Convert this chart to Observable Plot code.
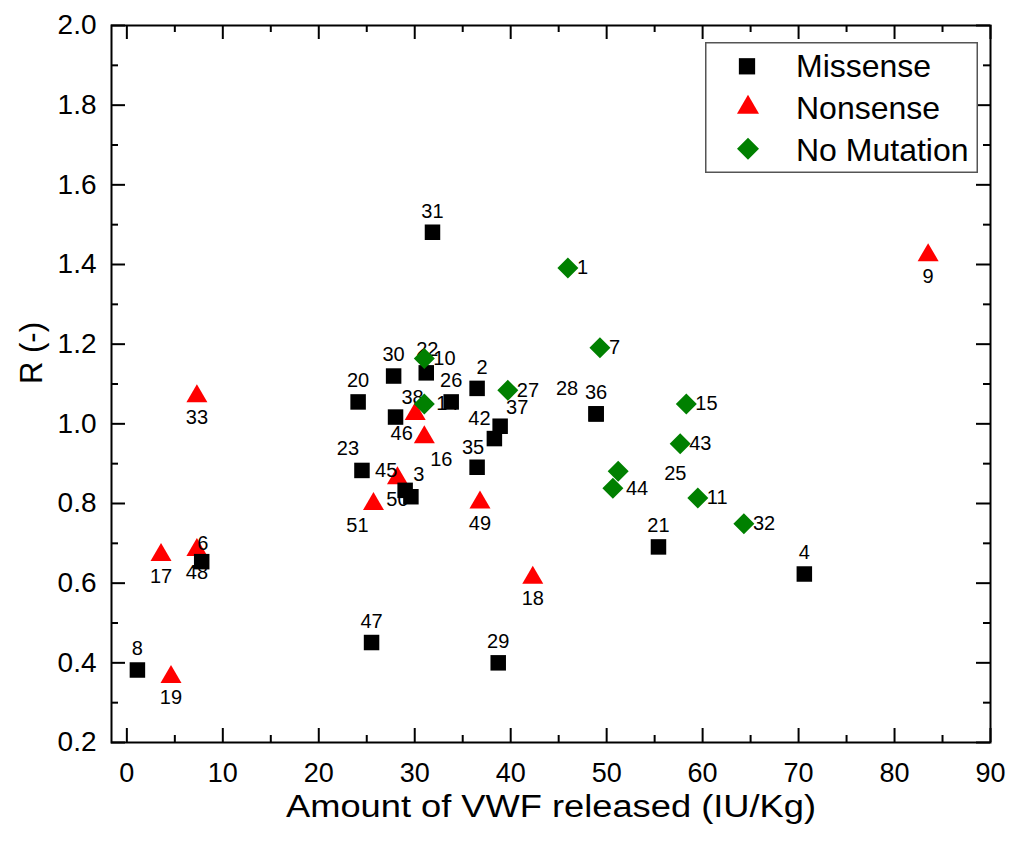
<!DOCTYPE html>
<html>
<head>
<meta charset="utf-8">
<script src="https://cdn.jsdelivr.net/npm/d3@7"></script>
<script src="https://cdn.jsdelivr.net/npm/@observablehq/plot@0.6"></script>
<style>
  html, body { margin: 0; padding: 0; background: white; }
  #wrap { position: relative; width: 1010px; height: 845px; font-family: "Liberation Sans", Arial, sans-serif; }
</style>
</head>
<body>
<div id="wrap"></div>
<script>
// ---------------- data ----------------
const missenseId  = [8, 6, 47, 29, 31, 20, 30, 22, 26, 2, 38, 37, 42, 35, 23, 45, 3, 28, 36, 21, 4];
const missenseVWF = [1.1, 7.8, 25.5, 38.7, 31.85, 24.1, 27.8, 31.2, 33.8, 36.5, 28.0, 38.9, 38.3, 36.5, 24.5, 29.0, 29.6, 48.9, 48.9, 55.4, 70.6];
const missenseR   = [0.382, 0.654, 0.451, 0.400, 1.481, 1.055, 1.120, 1.128, 1.055, 1.089, 1.017, 0.994, 0.963, 0.891, 0.883, 0.833, 0.817, 1.025, 1.025, 0.691, 0.623];

const nonsenseId  = [33, 17, 48, 19, 9, 18, 49, 51, 50, 46, 16];
const nonsenseVWF = [7.3, 3.56, 7.3, 4.6, 83.5, 42.3, 36.8, 25.7, 28.2, 30.05, 31.0];
const nonsenseR   = [1.077, 0.678, 0.691, 0.372, 1.431, 0.621, 0.810, 0.806, 0.871, 1.032, 0.974];

const noMutId  = [10, 14, 27, 1, 7, 15, 43, 25, 44, 11, 32];
const noMutVWF = [31.0, 31.0, 39.7, 45.96, 49.3, 58.3, 57.66, 51.2, 50.65, 59.5, 64.3];
const noMutR   = [1.164, 1.050, 1.084, 1.391, 1.191, 1.050, 0.950, 0.881, 0.838, 0.814, 0.749];

const categories = ["Missense", "Nonsense", "No Mutation"];
const colors = ["#000000", "#ff0000", "#008000"];

const xMajor = [0, 10, 20, 30, 40, 50, 60, 70, 80, 90];
const xMinor = [5, 15, 25, 35, 45, 55, 65, 75, 85];
const yMajor = [0.2, 0.4, 0.6, 0.8, 1.0, 1.2, 1.4, 1.6, 1.8, 2.0];
const yMinor = [0.3, 0.5, 0.7, 0.9, 1.1, 1.3, 1.5, 1.7, 1.9];

const xTitle = "Amount of VWF released (IU/Kg)";
const yTitle = "R (-)";

// ---------------- tables ----------------
function rows(ids, xs, ys, cat) {
  return ids.map((id, i) => ({id, vwf: xs[i], r: ys[i], cat}));
}
const missense = rows(missenseId, missenseVWF, missenseR, categories[0]);
const nonsense = rows(nonsenseId, nonsenseVWF, nonsenseR, categories[1]);
const noMut = rows(noMutId, noMutVWF, noMutR, categories[2]);

// label placement (style): default per category, plus manual nudges
const labelDefault = {
  "Missense": {dx: 0, dy: -21, anchor: "middle"},
  "Nonsense": {dx: 0, dy: 24, anchor: "middle"},
  "No Mutation": {dx: 9, dy: 0, anchor: "start"}
};
const labelNudge = {
  "Missense": {23: [-14, -22], 38: [17, -19], 37: [17, -19], 42: [-15, -20], 45: [-19, -20],
               3: [8, -22], 22: [1, -23], 2: [5, -21], 35: [-4, -20], 28: [-29, -25], 6: [1, -18]},
  "Nonsense": {51: [-16, 24], 46: [-13.5, 23], 16: [17, 25], 48: [0, 26]},
  "No Mutation": {25: [46, 2], 44: [13, 0], 14: [12, 0]}
};

// ---------------- symbols ----------------
const sqSym = {draw(c) { const h = 7.75; c.moveTo(-h, -h); c.lineTo(h, -h); c.lineTo(h, h); c.lineTo(-h, h); c.closePath(); }};
const triSym = {draw(c) { c.moveTo(0, -9); c.lineTo(10.5, 9); c.lineTo(-10.5, 9); c.closePath(); }};
const diaSym = {draw(c) { const h = 10.5; c.moveTo(0, -h); c.lineTo(h, 0); c.lineTo(0, h); c.lineTo(-h, 0); c.closePath(); }};
const symbols = [sqSym, triSym, diaSym];

const FONT = '"Liberation Sans", Arial, sans-serif';
const W = 1010, H = 845, ML = 111, MR = 20, MT = 25, MB = 103;
const FW = W - ML - MR, FH = H - MT - MB;

const labelMarks = [...missense, ...nonsense, ...noMut].map(d => {
  const def = labelDefault[d.cat];
  const n = labelNudge[d.cat][d.id];
  return Plot.text([d], {
    x: "vwf", y: "r", text: "id",
    dx: n ? n[0] : def.dx, dy: n ? n[1] : def.dy,
    textAnchor: def.anchor, fontSize: 20, fill: "black"
  });
});

const chart = Plot.plot({
  width: W, height: H,
  marginLeft: ML, marginRight: MR, marginTop: MT, marginBottom: MB,
  x: {domain: [-1.6, 90]},
  y: {domain: [0.2, 2.0]},
  style: {fontFamily: FONT, fontSize: "27px", color: "black", background: "white", overflow: "visible"},
  marks: [
    Plot.axisX(xMajor, {tickSize: 0, tickPadding: 20, fontSize: "27px", label: null}),
    Plot.axisY(yMajor, {tickSize: 0, tickPadding: 15, fontSize: "28px", label: null, tickFormat: d3.format(".1f")}),
    // inward ticks on all four sides
    Plot.tickX(xMajor, {x: d => d, insetTop: FH - 14, stroke: "black", strokeWidth: 2}),
    Plot.tickX(xMinor, {x: d => d, insetTop: FH - 7, stroke: "black", strokeWidth: 2}),
    Plot.tickX(xMajor, {x: d => d, insetBottom: FH - 14, stroke: "black", strokeWidth: 2}),
    Plot.tickX(xMinor, {x: d => d, insetBottom: FH - 7, stroke: "black", strokeWidth: 2}),
    Plot.tickY(yMajor, {y: d => d, insetRight: FW - 14, stroke: "black", strokeWidth: 2}),
    Plot.tickY(yMinor, {y: d => d, insetRight: FW - 7, stroke: "black", strokeWidth: 2}),
    Plot.tickY(yMajor, {y: d => d, insetLeft: FW - 14, stroke: "black", strokeWidth: 2}),
    Plot.tickY(yMinor, {y: d => d, insetLeft: FW - 7, stroke: "black", strokeWidth: 2}),
    Plot.frame({stroke: "black", strokeWidth: 2}),
    // axis titles
    Plot.text([xTitle], {frameAnchor: "bottom", dy: 74, fontSize: 31, fill: "black", className: "xtitle"}),
    Plot.text([yTitle], {frameAnchor: "left", dx: -79, rotate: -90, fontSize: 31, fill: "black"}),
    // points: triangles, labels, squares, diamonds
    Plot.dot(nonsense, {x: "vwf", y: "r", symbol: symbols[1], r: 8, fill: colors[1], stroke: "none"}),
    ...labelMarks,
    Plot.dot(missense, {x: "vwf", y: "r", symbol: symbols[0], r: 8, fill: colors[0], stroke: "none"}),
    Plot.dot(noMut, {x: "vwf", y: "r", symbol: symbols[2], r: 8, fill: colors[2], stroke: "none"})
  ]
});

// widen the x title a little, as in the original export
d3.select(chart).selectAll("g.xtitle text")
  .attr("textLength", 530).attr("lengthAdjust", "spacingAndGlyphs");

const wrap = document.getElementById("wrap");
wrap.appendChild(chart);

// ---------------- legend ----------------
const legend = d3.create("svg")
  .attr("width", 273).attr("height", 131)
  .style("position", "absolute").style("left", "705px").style("top", "41.5px")
  .style("font-family", FONT);
legend.append("rect")
  .attr("x", 0.75).attr("y", 0.75).attr("width", 271.5).attr("height", 129.5)
  .attr("fill", "white").attr("stroke", "#555").attr("stroke-width", 1.5);
const legendPos = [[42, 24.3, 35.2], [43, 62.3, 76.8], [43, 106.8, 118.5]];
categories.forEach((cat, i) => {
  const p = d3.path();
  symbols[i].draw(p);
  legend.append("path")
    .attr("d", p.toString())
    .attr("transform", `translate(${legendPos[i][0]},${legendPos[i][1]}) scale(1.05)`)
    .attr("fill", colors[i]);
  legend.append("text")
    .attr("x", 91).attr("y", legendPos[i][2])
    .attr("font-size", 32).attr("fill", "black")
    .text(cat);
});
wrap.appendChild(legend.node());
</script>
</body>
</html>
